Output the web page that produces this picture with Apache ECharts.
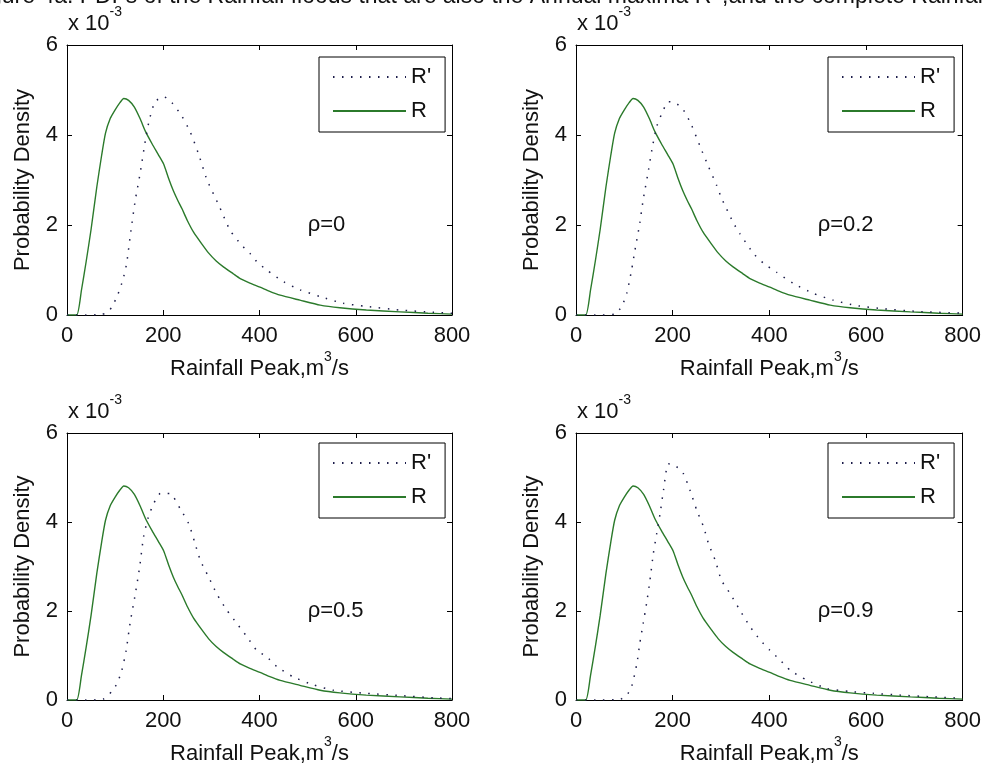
<!DOCTYPE html>
<html><head><meta charset="utf-8">
<script src="https://cdn.jsdelivr.net/npm/echarts@6.0.0/dist/echarts.min.js"></script>
<style>html,body{margin:0;padding:0;background:#fff}#c{width:984px;height:773px}</style>
</head><body><div id="c"></div>
<script>
// ---- data (density values in units of 10^-3) ----
const seriesNames = ["R'", "R"];
const rhoLabels = ['ρ=0', 'ρ=0.2', 'ρ=0.5', 'ρ=0.9'];
const multiplierText = 'x 10';
const multiplierExp = '-3';
const xAxisTitle = ['Rainfall Peak,m', '3', '/s'];
const yAxisTitle = 'Probability Density';
const figureCaption = "Figure 4a: PDFs of the Rainfall floods that are also the Annual maxima R' ,and the complete Rainfall";

// complete Rainfall distribution R (same in all panels)
const rX = [0, 20, 30, 40, 50, 62, 72, 80, 90, 100, 110, 118, 128, 140, 152, 163, 177, 190, 201, 211, 221, 230, 239, 250, 263, 280, 294, 310, 325, 345, 360, 380, 401, 420, 443, 484, 526, 567, 622, 692, 750, 800];
const rY = [0, 0, 0.55, 1.2, 1.9, 2.85, 3.55, 4.04, 4.37, 4.56, 4.72, 4.81, 4.77, 4.62, 4.36, 4.08, 3.80, 3.56, 3.35, 3.04, 2.76, 2.55, 2.36, 2.10, 1.84, 1.58, 1.38, 1.20, 1.07, 0.92, 0.81, 0.71, 0.62, 0.53, 0.44, 0.33, 0.22, 0.16, 0.11, 0.07, 0.04, 0.02];

// R' for rho = 0
const rp0X = [0, 40, 70, 85, 93, 104, 116, 124, 133, 142, 152, 163, 171, 183, 201, 218, 239, 256, 273, 291, 315, 339, 363, 380, 394, 415, 450, 484, 526, 574, 622, 692, 761, 800];
const rp0Y = [0, 0, 0.01, 0.06, 0.18, 0.41, 0.78, 1.15, 1.89, 2.56, 3.15, 3.89, 4.33, 4.74, 4.85, 4.72, 4.41, 4.07, 3.59, 3.0, 2.45, 1.88, 1.55, 1.37, 1.19, 1.0, 0.74, 0.56, 0.41, 0.26, 0.19, 0.11, 0.06, 0.04];
// R' for rho = 0.2
const rp2X = [0, 40, 80, 94, 105, 115, 122, 132, 139, 150, 157, 167, 181, 191, 205, 222, 239, 257, 274, 291, 301, 326, 339, 367, 388, 415, 450, 491, 532, 580, 636, 705, 800];
const rp2Y = [0, 0, 0.02, 0.18, 0.48, 1.0, 1.44, 2.04, 2.56, 3.22, 3.67, 4.19, 4.56, 4.74, 4.72, 4.56, 4.22, 3.74, 3.30, 2.88, 2.6, 2.04, 1.81, 1.37, 1.15, 0.95, 0.70, 0.48, 0.33, 0.21, 0.14, 0.08, 0.04];
// R' for rho = 0.5
const rp5X = [0, 40, 75, 93, 104, 114, 123, 131, 142, 151, 159, 169, 180, 194, 214, 235, 253, 266, 277, 294, 311, 332, 353, 374, 394, 415, 436, 470, 512, 553, 622, 692, 761, 800];
const rp5Y = [0, 0, 0.02, 0.19, 0.37, 0.67, 1.12, 1.72, 2.39, 2.99, 3.66, 4.11, 4.41, 4.64, 4.64, 4.30, 3.96, 3.52, 3.14, 2.77, 2.39, 2.02, 1.72, 1.42, 1.12, 0.97, 0.75, 0.52, 0.34, 0.22, 0.15, 0.10, 0.05, 0.03];
// R' for rho = 0.9
const rp9X = [0, 40, 90, 105, 115, 126, 132, 139, 146, 153, 160, 167, 174, 181, 191, 205, 222, 236, 250, 264, 274, 288, 301, 319, 339, 360, 381, 401, 422, 443, 477, 519, 567, 615, 670, 739, 800];
const rp9Y = [0, 0, 0.01, 0.11, 0.30, 0.82, 1.27, 1.72, 2.17, 2.69, 3.29, 3.74, 4.19, 4.71, 5.31, 5.27, 5.09, 4.71, 4.26, 3.89, 3.52, 3.14, 2.69, 2.39, 2.02, 1.65, 1.35, 1.12, 0.90, 0.67, 0.45, 0.26, 0.19, 0.15, 0.11, 0.07, 0.04];

// ---- layout / style ----
const FONT = '"Liberation Sans", Arial, Helvetica, sans-serif';
const TXT = '#111';
const C_R = '#2b7a2b';
const C_RP = '#1c1c4a';
const grids = [
  {left: 67, top: 45, width: 385, height: 270},
  {left: 576, top: 45, width: 387, height: 270},
  {left: 67, top: 433, width: 385, height: 267},
  {left: 576, top: 433, width: 387, height: 267}
];
const legendPos = [{left: 319, top: 57}, {left: 828, top: 57}, {left: 319, top: 443}, {left: 828, top: 443}];
const multPos = [{left: 68, top: 5}, {left: 577, top: 5}, {left: 68, top: 393}, {left: 577, top: 393}];
const rpX = [rp0X, rp2X, rp5X, rp9X];
const rpY = [rp0Y, rp2Y, rp5Y, rp9Y];
const zip = (a, b) => a.map((v, i) => [v, b[i]]);

const supRich = {
  n: {fontSize: 22, fontFamily: FONT, fontWeight: 'normal', color: TXT, lineHeight: 30, verticalAlign: 'bottom'},
  s: {fontSize: 14, fontFamily: FONT, fontWeight: 'normal', color: TXT, lineHeight: 14, verticalAlign: 'top'}
};

const xAxes = [], yAxes = [], series = [];
grids.forEach((g, i) => {
  ['bottom', 'top'].forEach(pos => {
    xAxes.push({
      type: 'value', gridIndex: i, position: pos, min: 0, max: 800, interval: 200,
      axisLine: {show: true, onZero: false, lineStyle: {color: '#000', width: 1}},
      axisTick: {show: true, inside: true, length: 5, lineStyle: {color: '#000'}},
      axisLabel: {show: pos === 'bottom', fontSize: 22, fontFamily: FONT, color: TXT, margin: 10},
      splitLine: {show: false},
      name: pos === 'bottom' ? '{n|' + xAxisTitle[0] + '}{s|' + xAxisTitle[1] + '}{n|' + xAxisTitle[2] + '}' : '',
      nameLocation: 'middle', nameGap: 35,
      nameTextStyle: {rich: supRich}
    });
  });
  ['left', 'right'].forEach(pos => {
    yAxes.push({
      type: 'value', gridIndex: i, position: pos, min: 0, max: 6, interval: 2,
      axisLine: {show: true, onZero: false, lineStyle: {color: '#000', width: 1}},
      axisTick: {show: true, inside: true, length: 5, lineStyle: {color: '#000'}},
      axisLabel: {show: pos === 'left', fontSize: 22, fontFamily: FONT, color: TXT, margin: 9},
      splitLine: {show: false},
      name: pos === 'left' ? yAxisTitle : '',
      nameLocation: 'middle', nameGap: 33,
      nameTextStyle: {fontSize: 22, fontFamily: FONT, color: TXT}
    });
  });
  series.push({
    name: seriesNames[0], type: 'line', xAxisIndex: 2 * i, yAxisIndex: 2 * i,
    data: zip(rpX[i], rpY[i]), symbol: 'none', smooth: 0.2,
    lineStyle: {color: C_RP, width: 1.5, type: [1.5, 7.5]},
    itemStyle: {color: C_RP}, z: 3
  });
  series.push({
    name: seriesNames[1], type: 'line', xAxisIndex: 2 * i, yAxisIndex: 2 * i,
    data: zip(rX, rY), symbol: 'none', smooth: 0.2,
    lineStyle: {color: C_R, width: 1.4},
    itemStyle: {color: C_R}, z: 2,
    markPoint: {
      symbol: 'circle', symbolSize: 0, silent: true,
      label: {show: true, position: 'right', distance: 0, formatter: rhoLabels[i],
              fontSize: 22, fontFamily: FONT, color: TXT},
      data: [{coord: [500, 2]}]
    }
  });
});

const option = {
  backgroundColor: '#fff',
  animation: false,
  grid: grids,
  xAxis: xAxes,
  yAxis: yAxes,
  series: series,
  legend: grids.map((g, i) => ({
    orient: 'vertical', left: legendPos[i].left, top: legendPos[i].top,
    data: seriesNames, itemWidth: 73, itemHeight: 14, itemGap: 12,
    padding: [9, 14, 10, 13], borderColor: '#000', borderWidth: 1, backgroundColor: '#fff',
    textStyle: {fontSize: 22, fontFamily: FONT, color: TXT, lineHeight: 22},
    itemStyle: {opacity: 0}, selectedMode: false
  })),
  title: multPos.map(p => ({
    text: '{n|' + multiplierText + '}{s|' + multiplierExp + '}',
    left: p.left, top: p.top, padding: 0,
    textStyle: {fontWeight: 'normal', rich: supRich}
  })),
  graphic: [{
    type: 'text', silent: true,
    style: {x: 988, y: -3, text: figureCaption, align: 'right', verticalAlign: 'middle',
            fontSize: 23, fontFamily: FONT, fill: TXT}
  }]
};
const chart = echarts.init(document.getElementById('c'), null, {renderer: 'canvas'});
chart.setOption(option);
</script></body></html>
